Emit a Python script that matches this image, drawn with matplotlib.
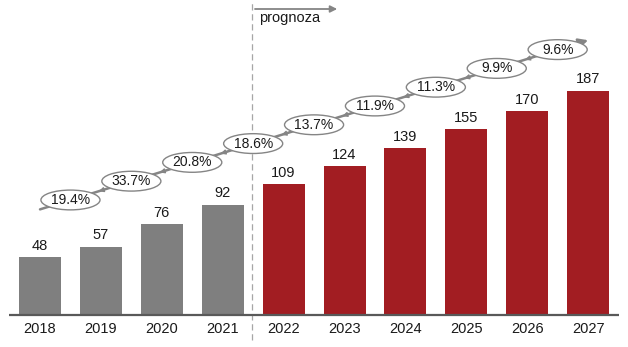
import matplotlib
matplotlib.use('Agg')
import matplotlib.pyplot as plt
from matplotlib.patches import Ellipse
import numpy as np

# data
years = ['2018', '2019', '2020', '2021', '2022', '2023', '2024', '2025', '2026', '2027']
values = [48, 57, 76, 92, 109, 124, 139, 155, 170, 187]
growth = [19.4, 33.7, 20.8, 18.6, 13.7, 11.9, 11.3, 9.9, 9.6]
n_actual = 4  # 2018-2021 actual, rest forecast

GRAY = '#7f7f7f'
RED = '#a21d22'
LINE_GRAY = '#858585'
TXT = '#1a1a1a'

plt.rcParams['font.family'] = ['Liberation Sans', 'DejaVu Sans']

fig = plt.figure(figsize=(6.28, 3.47), dpi=100)
ax = fig.add_axes([0, 0, 1, 1])
ax.set_xlim(-0.657, 9.655)
ax.set_ylim(-26.7, 262.5)
ax.axis('off')

x = np.arange(len(years))
colors = [GRAY] * n_actual + [RED] * (len(years) - n_actual)
bars = ax.bar(x, values, width=0.69, color=colors, zorder=2)
ax.bar_label(bars, labels=[str(v) for v in values], padding=3, fontsize=10.5, color=TXT)

# baseline
ax.plot([-0.51, 9.51], [0, 0], color='#595959', lw=1.6, zorder=3, solid_capstyle='butt')
for xi, yr in zip(x, years):
    ax.text(xi, -11.7, yr, ha='center', va='center', fontsize=10.5, color=TXT)

# forecast divider
split = n_actual - 0.52
ax.plot([split, split], [-21, 262.5], color='#a6a6a6', lw=0.9, ls=(0, (5, 3)), zorder=1)
ax.annotate('', xy=(4.88, 255), xytext=(split + 0.05, 255),
            arrowprops=dict(arrowstyle='-|>', color=LINE_GRAY, lw=1.3,
                            mutation_scale=10, shrinkA=0, shrinkB=0))
ax.text(split + 0.12, 247.5, 'prognoza', ha='left', va='center', fontsize=10.5, color=TXT)

# growth trend line with ellipses
x0, y0, x1, y1 = 0.0, 88.0, 9.0, 229.0
slope = (y1 - y0) / (x1 - x0)
ax.annotate('', xy=(x1, y1), xytext=(x0, y0),
            arrowprops=dict(arrowstyle='-|>', color=LINE_GRAY, lw=1.8,
                            mutation_scale=14, shrinkA=0, shrinkB=0), zorder=4)
ew, eh = 0.97, 16.5
for i, g in enumerate(growth):
    cx = i + 0.5
    cy = y0 + slope * (cx - x0)
    # small arrowhead at the right edge of each ellipse
    if i < len(growth) - 1:
        ax.annotate('', xy=(cx + ew / 2 - 0.02, cy + slope * (ew / 2 - 0.02)),
                    xytext=(cx + ew / 2 + 0.12, cy + slope * (ew / 2 + 0.12)),
                    arrowprops=dict(arrowstyle='-|>', color=LINE_GRAY, lw=1.0,
                                    mutation_scale=7, shrinkA=0, shrinkB=0), zorder=4)
    ax.add_patch(Ellipse((cx, cy), ew, eh, facecolor='white', edgecolor=LINE_GRAY,
                         lw=1.0, zorder=5))
    ax.text(cx, cy, f'{g:.1f}%', ha='center', va='center', fontsize=10, color=TXT, zorder=6)

fig.savefig('out.png', dpi=100)
